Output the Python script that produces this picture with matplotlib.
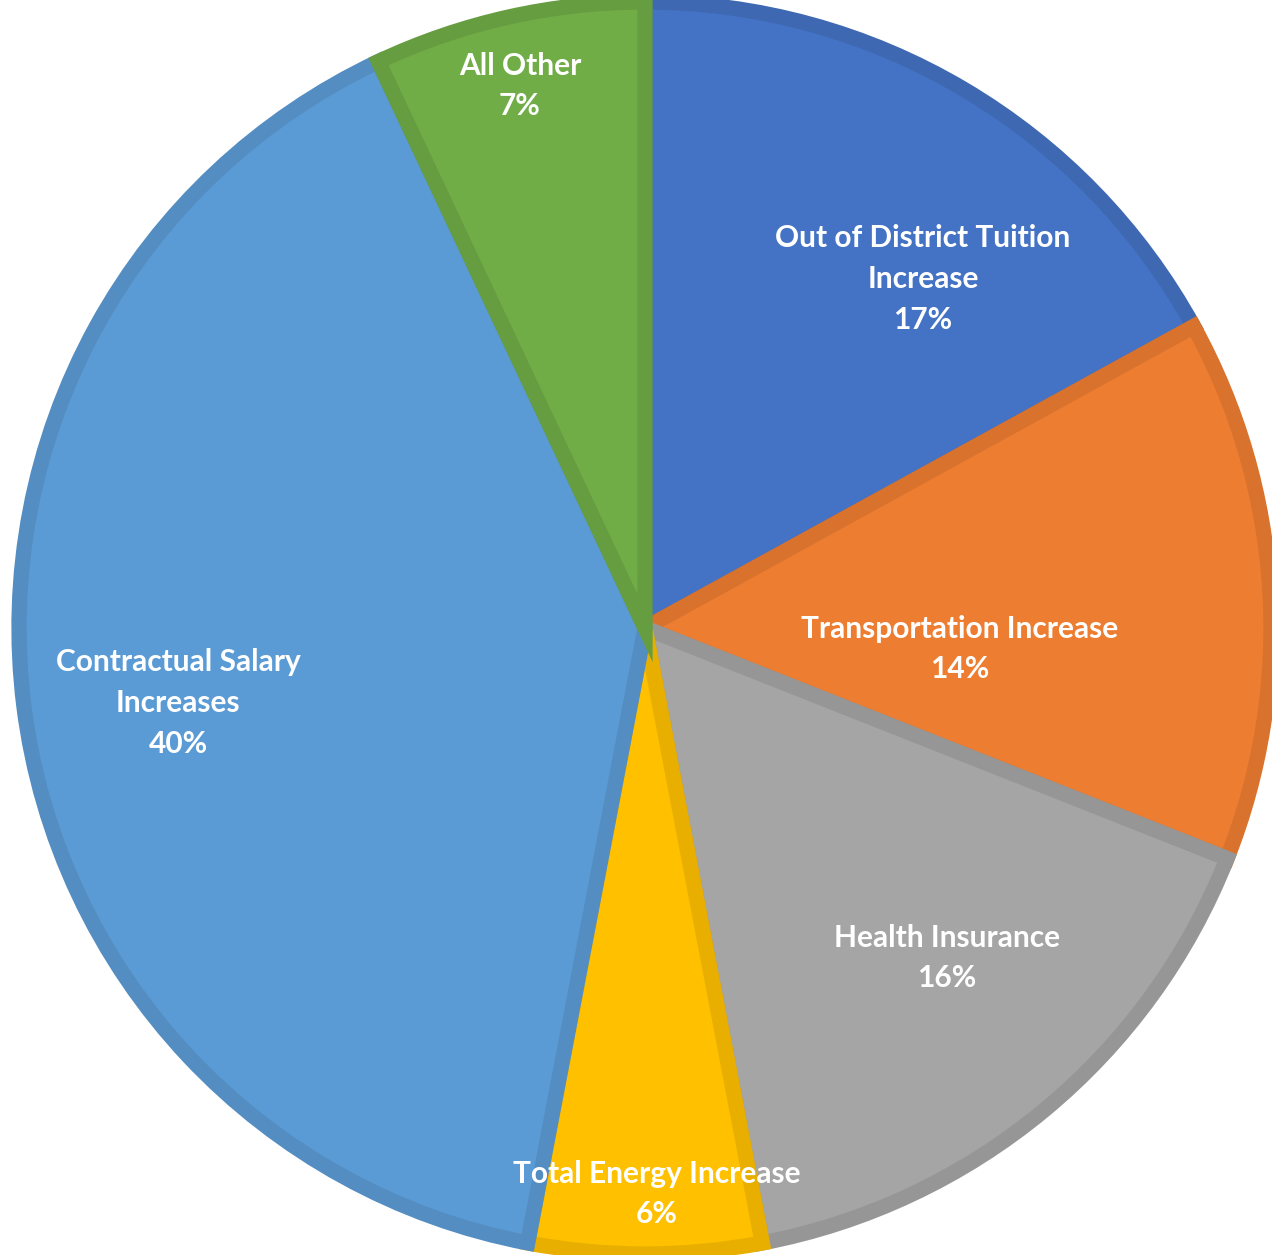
import matplotlib.pyplot as plt
from matplotlib.colors import to_rgb

# budget increase drivers
labels = ['Out of District Tuition\nIncrease', 'Transportation Increase', 'Health Insurance',
          'Total Energy Increase', 'Contractual Salary\nIncreases', 'All Other']
shares = [17, 14, 16, 6, 40, 7]
colors = ['#4472C4', '#ED7D31', '#A5A5A5', '#FFC000', '#5B9BD5', '#70AD47']

# label anchor points (pixels, origin bottom-left)
label_x = [923, 960, 947, 657, 178, 520]
label_y = [976, 606, 297, 61, 552, 1169]

W, H = 1272, 1255
fig = plt.figure(figsize=(W / 100, H / 100), dpi=100)
ax = fig.add_axes([0, 0, 1, 1])

wedges, _ = ax.pie(shares, colors=colors, startangle=90, counterclock=False,
                   center=(645, 627), radius=626, frame=True)
ax.set_xlim(0, W)
ax.set_ylim(0, H)
ax.axis('off')

# darker inner border on each slice
for w, c in zip(wedges, colors):
    dark = tuple(v * 0.91 for v in to_rgb(c))
    w.set_edgecolor(dark)
    w.set_linewidth(11)
    w.set_clip_path(w)

for lab, s, x, y in zip(labels, shares, label_x, label_y):
    ax.text(x, y, f'{lab}\n{s}%', ha='center', va='center', color='white',
            fontsize=21.5, fontweight='bold', family='Lato', linespacing=1.55)

fig.savefig('out.png', dpi=100)
